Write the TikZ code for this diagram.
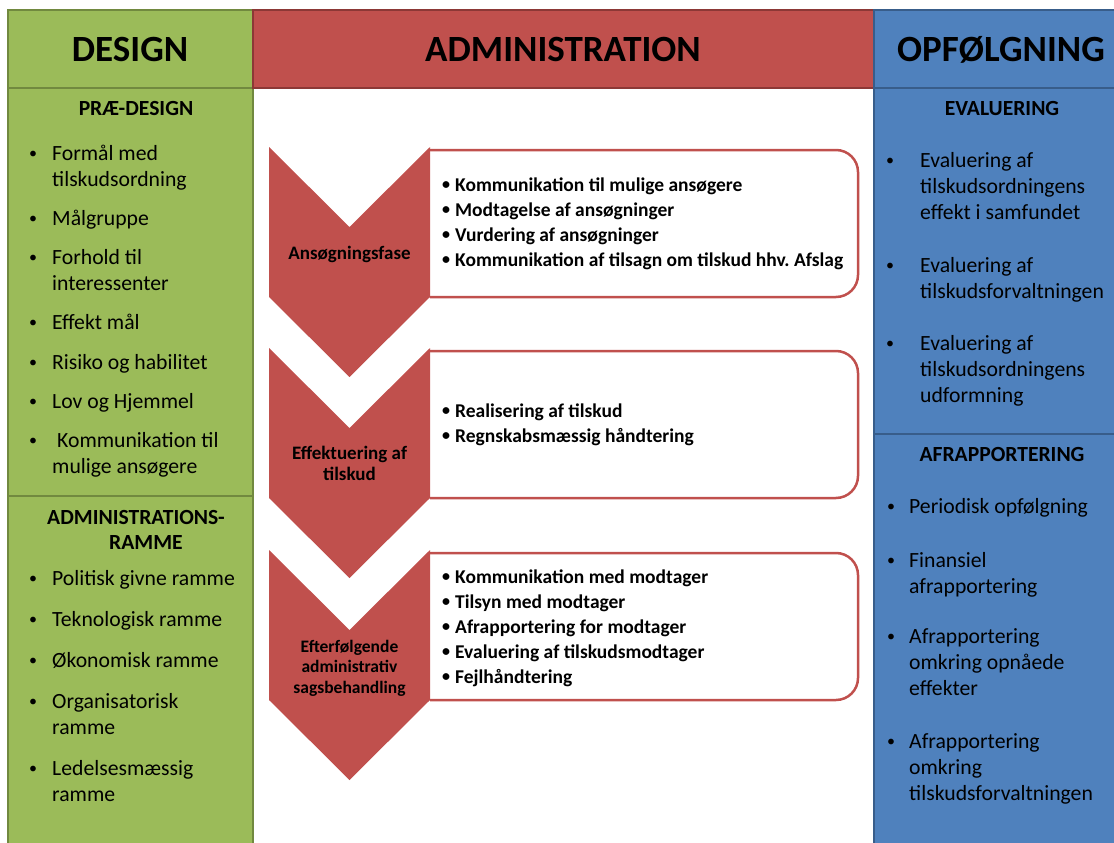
\documentclass[tikz,border=0pt]{standalone}
\usepackage{fontspec}
\setmainfont{Carlito}
\definecolor{greenfill}{HTML}{9BBB59}
\definecolor{greenline}{HTML}{71893F}
\definecolor{redfill}{HTML}{C0504D}
\definecolor{redline}{HTML}{8C3836}
\definecolor{bluefill}{HTML}{4F81BD}
\definecolor{blueline}{HTML}{385D8A}
% first line of a stacked text is its baseline
\newcommand\lstack[1]{\begin{tabular}[t]{@{}l@{}}#1\end{tabular}}
\newcommand\cstack[1]{\begin{tabular}[t]{@{}c@{}}#1\end{tabular}}
\tikzset{
  colhead/.style={font=\fontsize{37}{40}\selectfont\bfseries, anchor=base, inner sep=0pt},
  subhead/.style={font=\fontsize{21.6}{25}\selectfont\bfseries, anchor=base, inner sep=0pt},
  listitem/.style={font=\fontsize{21.7}{26}\selectfont, anchor=base west, inner sep=0pt},
  bulletdot/.style={font=\fontsize{16}{26}\selectfont, anchor=base, inner sep=0pt, yshift=2pt},
  chevron/.style={fill=redfill},
  chevronlabel/.style={font=\fontsize{19}{21}\selectfont\bfseries, anchor=base, inner sep=0pt},
  stepbox/.style={draw=redfill, line width=2.5pt, rounded corners=22pt},
  boxitem/.style={font=\fontsize{19.5}{25}\selectfont\bfseries, anchor=base west, inner sep=0pt},
  boxdot/.style={font=\fontsize{16}{25}\selectfont\bfseries, anchor=base, inner sep=0pt, yshift=1.5pt},
}
\begin{document}
\begin{tikzpicture}[x=1pt,y=-1pt]
  \useasboundingbox (0,0) rectangle (1114,843);
  \clip (0,0) rectangle (1114,843);

  % columns
  \filldraw[fill=greenfill, draw=greenline, line width=1.5pt] (8,10) rectangle (253,88)
    (8,88) rectangle (253,496) (8,496) rectangle (253,848);
  \filldraw[fill=redfill, draw=redline, line width=1.5pt] (253,10) rectangle (874,88);
  \filldraw[fill=bluefill, draw=blueline, line width=1.5pt] (874,10) rectangle (1118,88)
    (874,88) rectangle (1118,434) (874,434) rectangle (1118,848);

  \node[colhead] (design) at (130,62) {DESIGN};
  \node[colhead] (admin) at (563,62) {ADMINISTRATION};
  \node[colhead] (opf) at (1001,62) {OPFØLGNING};

  % design column
  \node[subhead] (predesign) at (136,115) {PRÆ-DESIGN};
  \foreach \y/\t [count=\i] in {160/{Formål med\\tilskudsordning}, 225/Målgruppe,
      264/{Forhold til\\interessenter}, 329/Effekt mål, 369/Risiko og habilitet,
      408/Lov og Hjemmel, 447/{\hspace*{5pt}Kommunikation til\\mulige ansøgere}} {
    \node[bulletdot] (pre\i-dot) at (33,\y) {•};
    \node[listitem] (pre\i) at (52,\y) {\lstack{\t}};
  }
  \node[subhead] (ramme) at (136,524) {\cstack{ADMINISTRATIONS-\\\hspace*{20pt}RAMME}};
  \foreach \y/\t [count=\i] in {585/Politisk givne ramme, 626/Teknologisk ramme,
      667/Økonomisk ramme, 708/{Organisatorisk\\ramme}, 775/{Ledelsesmæssig\\ramme}} {
    \node[bulletdot] (adm\i-dot) at (33,\y) {•};
    \node[listitem] (adm\i) at (52,\y) {\lstack{\t}};
  }

  % administration: boxes behind the chevrons
  \foreach \t [count=\i] in {147,348,550} {
    \draw[stepbox] (430,\t+3) -- (858,\t+3) -- (858,\t+150) -- (430,\t+150);
    \fill[chevron] (269,\t) -- (349.5,\t+80) -- (430,\t) -- (430,\t+150)
      -- (349.5,\t+230) -- (269,\t+150) -- cycle;
  }
  \node[chevronlabel] (phase1) at (349.5,259) {Ansøgningsfase};
  \node[chevronlabel] (phase2) at (349.5,459) {\cstack{Effektuering af\\tilskud}};
  \node[chevronlabel, font=\fontsize{17.5}{20.5}\selectfont\bfseries] (phase3)
    at (349.5,652) {\cstack{Efterfølgende\\administrativ\\sagsbehandling}};

  \foreach \y/\t [count=\i] in {191/Kommunikation til mulige ansøgere,
      216/Modtagelse af ansøgninger, 241/Vurdering af ansøgninger,
      266/Kommunikation af tilsagn om tilskud hhv.\ Afslag} {
    \node[boxdot] (fase\i-dot) at (446,\y) {•};
    \node[boxitem] (fase\i) at (455,\y) {\t};
  }
  \foreach \y/\t [count=\i] in {417/Realisering af tilskud, 442/Regnskabsmæssig håndtering} {
    \node[boxdot] (eff\i-dot) at (446,\y) {•};
    \node[boxitem] (eff\i) at (455,\y) {\t};
  }
  \foreach \y/\t [count=\i] in {583/Kommunikation med modtager, 608/Tilsyn med modtager,
      633/Afrapportering for modtager, 658/Evaluering af tilskudsmodtager,
      683/Fejlhåndtering} {
    \node[boxdot] (sag\i-dot) at (446,\y) {•};
    \node[boxitem] (sag\i) at (455,\y) {\t};
  }

  % opfoelgning column
  \node[subhead] (evaluering) at (1002,115) {EVALUERING};
  \foreach \y/\t [count=\i] in {167/{Evaluering af\\tilskudsordningens\\effekt i samfundet},
      272/{Evaluering af\\tilskudsforvaltningen},
      350/{Evaluering af\\tilskudsordningens\\udformning}} {
    \node[bulletdot] (eval\i-dot) at (890,\y) {•};
    \node[listitem] (eval\i) at (920,\y) {\lstack{\t}};
  }
  \node[subhead] (afrap) at (1002,461) {AFRAPPORTERING};
  \foreach \y/\t [count=\i] in {513/Periodisk opfølgning, 567/{Finansiel\\afrapportering},
      643/{Afrapportering\\omkring opnåede\\effekter},
      748/{Afrapportering\\omkring\\tilskudsforvaltningen}} {
    \node[bulletdot] (rap\i-dot) at (891,\y) {•};
    \node[listitem] (rap\i) at (909,\y) {\lstack{\t}};
  }
\end{tikzpicture}
\end{document}
